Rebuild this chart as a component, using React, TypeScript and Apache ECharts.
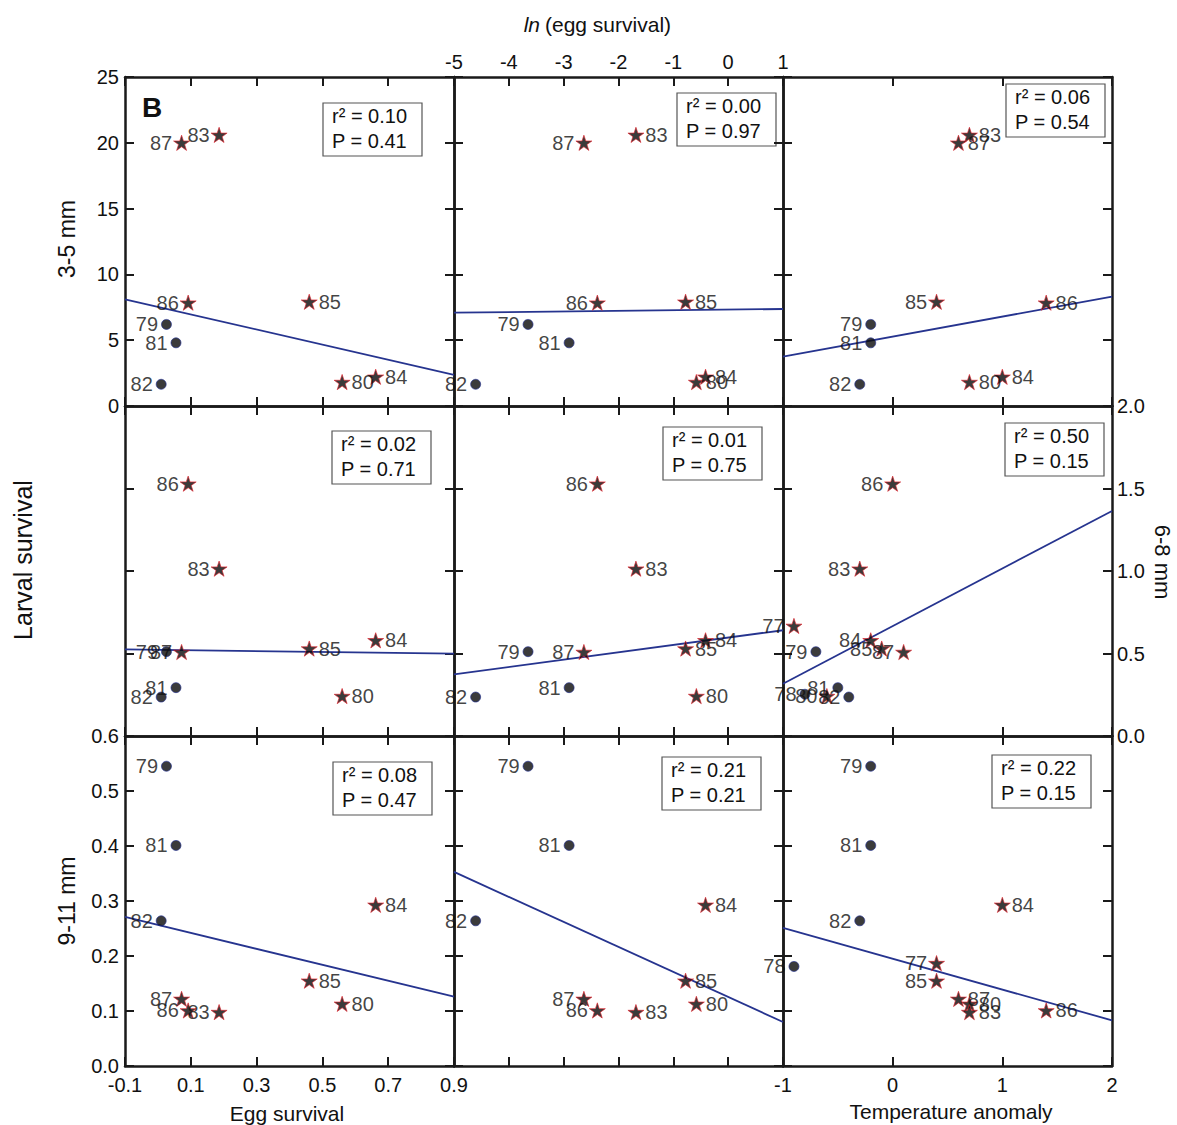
import React, { useEffect, useRef } from 'react';
import * as echarts from 'echarts';

// ---------- data ----------
const years = ['77', '78', '79', '80', '81', '82', '83', '84', '85', '86', '87'];
const circleYears = ['78', '79', '81', '82'];
const eggSurvival = [null, null, 0.026, 0.56, 0.055, 0.01, 0.186, 0.662, 0.46, 0.092, 0.072];
const survival35 = [null, null, 6.2, 1.82, 4.8, 1.65, 20.6, 2.22, 7.92, 7.85, 20.0];
const survival68 = [0.667, 0.253, 0.511, 0.242, 0.293, 0.236, 1.014, 0.58, 0.53, 1.529, 0.509];
const survival911 = [0.187, 0.181, 0.545, 0.113, 0.401, 0.264, 0.098, 0.293, 0.155, 0.101, 0.122];
// temperature anomaly used for 3-5 mm and 9-11 mm
const tempAnomaly = [0.4, -0.9, -0.2, 0.7, -0.2, -0.3, 0.7, 1.0, 0.4, 1.4, 0.6];
// temperature anomaly used for 6-8 mm
const tempAnomaly68 = [-0.9, -0.8, -0.7, -0.6, -0.5, -0.4, -0.3, -0.2, -0.1, 0.0, 0.1];

// regression line end values (at x-axis min and max) per column
const fit35 = [[8.11, 2.36], [7.09, 7.37], [3.75, 8.31]];
const fit68 = [[0.525, 0.499], [0.374, 0.641], [0.317, 1.364]];
const fit911 = [[0.271, 0.126], [0.353, 0.08], [0.251, 0.083]];

const r2_35 = ['0.10', '0.00', '0.06'];
const p_35 = ['0.41', '0.97', '0.54'];
const r2_68 = ['0.02', '0.01', '0.50'];
const p_68 = ['0.71', '0.75', '0.15'];
const r2_911 = ['0.08', '0.21', '0.22'];
const p_911 = ['0.47', '0.21', '0.15'];

const eggTicks = [-0.1, 0.1, 0.3, 0.5, 0.7, 0.9];

// ---------- layout / style ----------
const FONT = '"Liberation Sans", Arial, Helvetica, sans-serif';
const INK = '#111';
const LINE_BLUE = '#26348f';
const STAR =
  'path://M0,-10L2.245,-3.09L9.511,-3.09L3.633,1.18L5.878,8.09L0,3.82L-5.878,8.09L-3.633,1.18L-9.511,-3.09L-2.245,-3.09Z';

const colLeft = [125, 454, 783];
const colWidth = 329;
const rowTop = [77, 406, 736];
const rowHeight = [329, 330, 330];

const rightLabelYears = [
  [['80', '84', '85'], ['83', '85', '80', '84'], ['83', '87', '86', '80', '84']],
  [['84', '85', '80'], ['83', '85', '84', '80'], []],
  [['84', '85', '80'], ['84', '85', '80', '83'], ['84', '87', '80', '83', '86']],
];

const statBoxPos = [
  [[323, 103], [677, 93], [1006, 84]],
  [[332, 431], [663, 427], [1005, 423]],
  [[333, 762], [662, 757], [992, 755]],
];

function buildOption() {
  const lnEgg = eggSurvival.map((v) => (v == null ? null : Math.log(v)));
  const colX = (r: number, c: number) => (c === 0 ? eggSurvival : c === 1 ? lnEgg : r === 1 ? tempAnomaly68 : tempAnomaly);
  const rowY = [survival35, survival68, survival911];
  const fits = [fit35, fit68, fit911];
  const r2s = [r2_35, r2_68, r2_911];
  const ps = [p_35, p_68, p_911];

  const colDefs: any[] = [
    { min: -0.1, max: 0.9, custom: eggTicks, fmt: (v: number) => v.toFixed(1) },
    { min: -5, max: 1, interval: 1, fmt: (v: number) => String(Math.round(v)) },
    { min: -1, max: 2, interval: 1, fmt: (v: number) => String(Math.round(v)) },
  ];
  const rowDefs: any[] = [
    { min: 0, max: 25, interval: 5, fmt: (v: number) => String(Math.round(v)) },
    { min: 0, max: 2, interval: 0.5, fmt: (v: number) => v.toFixed(1) },
    { min: 0, max: 0.6, interval: 0.1, fmt: (v: number) => v.toFixed(1) },
  ];

  const grids: any[] = [];
  const xAxes: any[] = [];
  const yAxes: any[] = [];
  const series: any[] = [];
  const graphics: any[] = [];

  const axisCommon = (def: any, showLabel: boolean, margin: number, gridIndex: number, position: string) => {
    const a: any = {
      type: 'value',
      gridIndex,
      position,
      min: def.min,
      max: def.max,
      axisLine: { show: true, onZero: false, lineStyle: { color: '#1a1a1a', width: 2.5 } },
      axisTick: { show: true, inside: true, length: 9, lineStyle: { color: '#1a1a1a', width: 2 } },
      axisLabel: {
        show: showLabel,
        formatter: def.fmt,
        margin,
        color: INK,
        fontSize: 20,
        fontFamily: FONT,
        showMinLabel: true,
        showMaxLabel: true,
      },
      splitLine: { show: false },
    };
    if (def.interval != null) a.interval = def.interval;
    if (def.custom) {
      a.axisTick.customValues = def.custom;
      a.axisLabel.customValues = def.custom;
    }
    return a;
  };

  for (let r = 0; r < 3; r++) {
    for (let c = 0; c < 3; c++) {
      const g = r * 3 + c;
      grids.push({ left: colLeft[c], top: rowTop[r], width: colWidth, height: rowHeight[r], containLabel: false });
      const cd = colDefs[c];
      const rd = rowDefs[r];
      xAxes.push(axisCommon(cd, r === 2 && c !== 1, 9, g, 'bottom'));
      xAxes.push(axisCommon(cd, r === 0 && c === 1, 5, g, 'top'));
      yAxes.push(axisCommon(rd, c === 0 && r !== 1, 6, g, 'left'));
      yAxes.push(axisCommon(rd, c === 2 && r === 1, 5, g, 'right'));

      const xs = colX(r, c);
      const ys = rowY[r];
      const rightSet = rightLabelYears[r][c];
      const pts: any[] = [];
      years.forEach((yr, i) => {
        const xv = xs[i];
        const yv = ys[i];
        if (xv == null || yv == null) return;
        const isCircle = circleYears.includes(yr);
        const right = rightSet.includes(yr);
        pts.push({
          name: yr,
          value: [xv, yv],
          symbol: isCircle ? 'circle' : STAR,
          symbolSize: isCircle ? 10 : 16,
          symbolKeepAspect: true,
          itemStyle: isCircle
            ? { color: '#0a0a0a', borderColor: '#1f2d8f', borderWidth: 0.8 }
            : { color: '#0a0a0a', borderColor: '#e3212b', borderWidth: 0.8 },
          label: {
            show: true,
            position: right ? 'right' : 'left',
            distance: isCircle ? 3 : 1,
            formatter: '{b}',
            color: INK,
            fontSize: 20,
            fontFamily: FONT,
          },
        });
      });

      const fit = fits[r][c];
      series.push({
        type: 'line',
        xAxisIndex: 2 * g,
        yAxisIndex: 2 * g,
        data: [
          [cd.min, fit[0]],
          [cd.max, fit[1]],
        ],
        symbol: 'none',
        lineStyle: { color: LINE_BLUE, width: 1.8 },
        z: 2,
        silent: true,
      });
      series.push({
        type: 'scatter',
        xAxisIndex: 2 * g,
        yAxisIndex: 2 * g,
        data: pts,
        z: 3,
        silent: true,
      });

      const [bx, by] = statBoxPos[r][c];
      graphics.push({
        type: 'group',
        x: bx,
        y: by,
        z: 10,
        children: [
          {
            type: 'rect',
            shape: { x: 0, y: 0, width: 99, height: 53 },
            style: { fill: '#fff', stroke: '#555', lineWidth: 1.2 },
          },
          {
            type: 'text',
            x: 9,
            y: 3,
            style: { text: 'r² = ' + r2s[r][c], font: `20px ${FONT}`, fill: INK, textVerticalAlign: 'top', verticalAlign: 'top' },
          },
          {
            type: 'text',
            x: 9,
            y: 28,
            style: { text: 'P = ' + ps[r][c], font: `20px ${FONT}`, fill: INK, textVerticalAlign: 'top', verticalAlign: 'top' },
          },
        ],
      });
    }
  }

  const centerText = (text: string, x: number, y: number, font: string, rotation = 0) => ({
    type: 'text',
    x,
    y,
    rotation,
    z: 10,
    style: {
      text,
      font,
      fill: INK,
      textAlign: 'center',
      align: 'center',
      textVerticalAlign: 'middle',
      verticalAlign: 'middle',
    },
  });

  graphics.push({
    type: 'text',
    x: 142,
    y: 107,
    z: 10,
    style: { text: 'B', font: `bold 28px ${FONT}`, fill: INK, textVerticalAlign: 'middle', verticalAlign: 'middle' },
  });
  graphics.push(centerText('Egg survival', 287, 1113, `21px ${FONT}`));
  graphics.push(centerText('Temperature anomaly', 951, 1111, `21px ${FONT}`));
  graphics.push({
    type: 'text',
    x: 540,
    y: 24,
    z: 10,
    style: {
      text: 'ln',
      font: `italic 21px ${FONT}`,
      fill: INK,
      textAlign: 'right',
      align: 'right',
      textVerticalAlign: 'middle',
      verticalAlign: 'middle',
    },
  });
  graphics.push({
    type: 'text',
    x: 545,
    y: 24,
    z: 10,
    style: {
      text: '(egg survival)',
      font: `21px ${FONT}`,
      fill: INK,
      textAlign: 'left',
      align: 'left',
      textVerticalAlign: 'middle',
      verticalAlign: 'middle',
    },
  });
  graphics.push(centerText('Larval survival', 23, 560, `25px ${FONT}`, Math.PI / 2));
  graphics.push(centerText('3-5 mm', 67, 239, `23px ${FONT}`, Math.PI / 2));
  graphics.push(centerText('9-11 mm', 67, 901, `23px ${FONT}`, Math.PI / 2));
  graphics.push(centerText('6-8 mm', 1162, 562, `22px ${FONT}`, -Math.PI / 2));

  return {
    animation: false,
    backgroundColor: '#fff',
    textStyle: { fontFamily: FONT },
    grid: grids,
    xAxis: xAxes,
    yAxis: yAxes,
    series,
    graphic: { elements: graphics },
  };
}

export default function App() {
  const ref = useRef<HTMLDivElement>(null);
  useEffect(() => {
    if (!ref.current) return;
    const chart = echarts.init(ref.current, undefined, { renderer: 'svg' });
    chart.setOption(buildOption() as any);
    return () => chart.dispose();
  }, []);
  return (
    <div
      ref={ref}
      style={{ position: 'absolute', left: 0, top: 0, width: 1177, height: 1125, background: '#fff' }}
    />
  );
}
